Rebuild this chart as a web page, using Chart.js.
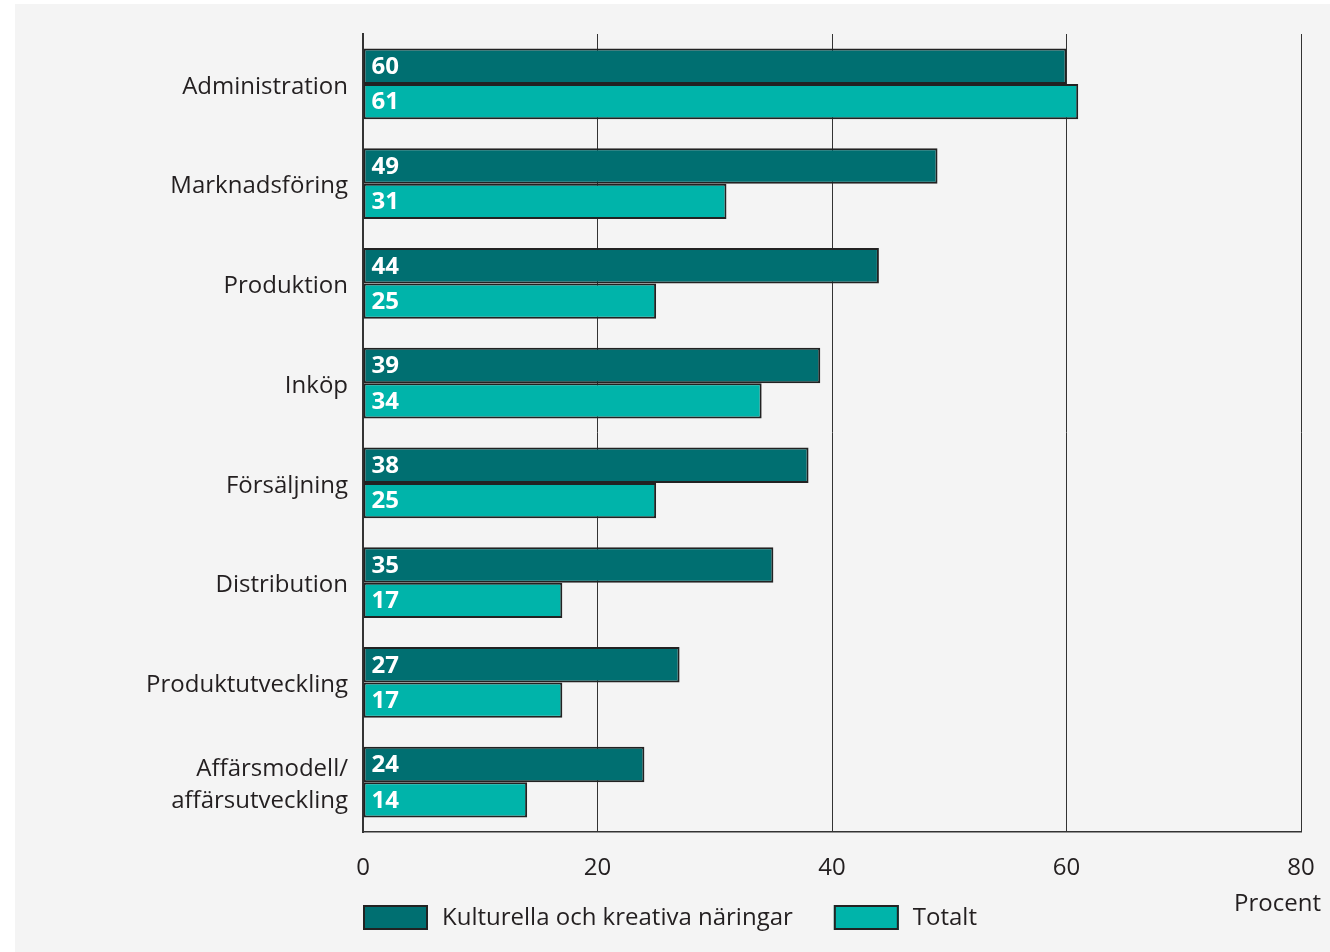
<!DOCTYPE html>
<html>
<head>
<meta charset="utf-8">
<script src="https://cdn.jsdelivr.net/npm/chart.js@4"></script>
<style>
    html, body { margin: 0; padding: 0; background: #fff; }
    #wrap { width: 1330px; height: 952px; position: relative; }
</style>
</head>
<body>
<div id="wrap"><canvas id="chart" width="1330" height="952"></canvas></div>
<script>
// ===== DATA =====
const categories = [
    'Administration',
    'Marknadsföring',
    'Produktion',
    'Inköp',
    'Försäljning',
    'Distribution',
    'Produktutveckling',
    ['Affärsmodell/', 'affärsutveckling']
];
const seriesNames = ['Kulturella och kreativa näringar', 'Totalt'];
const kulturella = [60, 49, 44, 39, 38, 35, 27, 24];
const totalt = [61, 31, 25, 34, 25, 17, 17, 14];
const xTicks = [0, 20, 40, 60, 80];
const axisUnit = 'Procent';

const colors = ['#006f71', '#00b4aa'];
const textColor = '#231f20';
const fontFamily = '"Open Sans", "DejaVu Sans", sans-serif';

// ===== PLUGINS =====
const panelBg = {
    id: 'panelBg',
    beforeDraw(chart) {
        const ctx = chart.ctx;
        ctx.save();
        ctx.fillStyle = '#ffffff';
        ctx.fillRect(0, 0, chart.width, chart.height);
        ctx.fillStyle = '#f4f4f4';
        ctx.fillRect(15, 4, chart.width - 15, chart.height - 4);
        ctx.restore();
    }
};

const barLabels = {
    id: 'barLabels',
    afterDatasetsDraw(chart) {
        const ctx = chart.ctx;
        ctx.save();
        ctx.fillStyle = '#ffffff';
        ctx.font = 'bold 24px ' + fontFamily;
        ctx.textAlign = 'left';
        ctx.textBaseline = 'middle';
        chart.data.datasets.forEach((ds, i) => {
            chart.getDatasetMeta(i).data.forEach((bar, j) => {
                ctx.fillText(ds.data[j], bar.base + 8, bar.y + 1);
            });
        });
        ctx.restore();
    }
};

const extras = {
    id: 'extras',
    afterDraw(chart) {
        const ctx = chart.ctx;
        const area = chart.chartArea;
        ctx.save();
        // unit label
        ctx.fillStyle = textColor;
        ctx.font = '24px ' + fontFamily;
        ctx.textAlign = 'right';
        ctx.textBaseline = 'middle';
        ctx.fillText(axisUnit, 1321, 904);

        // legend
        let x = area.left;
        const y = 905;
        chart.data.datasets.forEach((ds, i) => {
            ctx.fillStyle = ds.backgroundColor;
            ctx.fillRect(x, y, 65, 25);
            ctx.strokeStyle = '#222';
            ctx.lineWidth = 2;
            ctx.strokeRect(x + 1, y + 1, 63, 23);
            ctx.fillStyle = textColor;
            ctx.textAlign = 'left';
            ctx.fillText(ds.label, x + 79, y + 13);
            x += 79 + ctx.measureText(ds.label).width + 41;
        });
        ctx.restore();
    }
};

// ===== CHART =====
const ctx = document.getElementById('chart').getContext('2d');
new Chart(ctx, {
    type: 'bar',
    data: {
        labels: categories,
        datasets: [
            { label: seriesNames[0], data: kulturella, backgroundColor: colors[0] },
            { label: seriesNames[1], data: totalt, backgroundColor: colors[1] }
        ]
    },
    options: {
        indexAxis: 'y',
        responsive: false,
        animation: false,
        layout: { padding: { left: 15, right: 29, top: 34, bottom: 0 } },
        datasets: {
            bar: {
                categoryPercentage: 0.71,
                barPercentage: 1,
                borderColor: '#222',
                borderWidth: 2,
                borderSkipped: false
            }
        },
        plugins: {
            legend: { display: false },
            tooltip: { enabled: false }
        },
        scales: {
            x: {
                min: 0,
                max: 80,
                afterBuildTicks: scale => {
                    scale.ticks = xTicks.map(v => ({ value: v }));
                },
                afterFit: scale => {
                    scale.height = 120;
                    scale.paddingLeft = 0;
                    scale.paddingRight = 0;
                },
                grid: { color: '#333', lineWidth: 1, drawTicks: false },
                border: { display: true, color: '#333', width: 1.5 },
                ticks: {
                    color: textColor,
                    padding: 22,
                    font: { family: fontFamily, size: 24 }
                }
            },
            y: {
                afterFit: scale => {
                    scale.width = 348;
                    scale.paddingTop = 0;
                    scale.paddingBottom = 0;
                },
                grid: { display: false, drawTicks: false },
                border: { display: true, color: '#333', width: 2 },
                ticks: {
                    color: textColor,
                    padding: 15,
                    labelOffset: 3,
                    font: { family: fontFamily, size: 24, lineHeight: 1.3 }
                }
            }
        }
    },
    plugins: [panelBg, barLabels, extras]
});
</script>
</body>
</html>
